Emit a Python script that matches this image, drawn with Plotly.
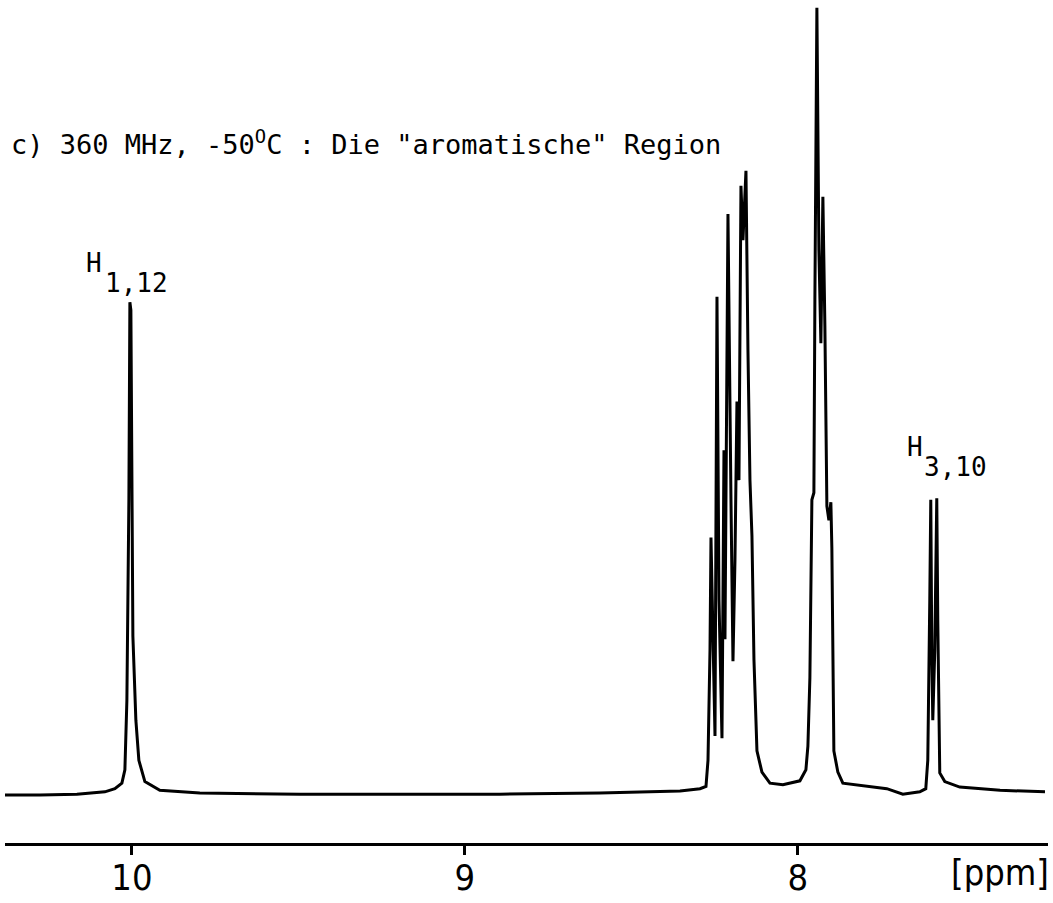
import plotly.graph_objects as go

# spectrum: chemical shift (ppm) and relative intensity (%)
ppm = [10.381, 10.276, 10.165, 10.081, 10.051, 10.030, 10.021, 10.015, 10.009, 10.006,
       10.003, 10.000, 9.997, 9.988, 9.979, 9.961, 9.916, 9.796, 9.495, 9.195,
       8.895, 8.595, 8.444, 8.354, 8.294, 8.276, 8.270, 8.264, 8.261, 8.249,
       8.243, 8.237, 8.228, 8.222, 8.219, 8.210, 8.201, 8.195, 8.189, 8.183,
       8.177, 8.171, 8.165, 8.156, 8.150, 8.144, 8.138, 8.132, 8.123, 8.108,
       8.084, 8.045, 7.994, 7.976, 7.970, 7.964, 7.958, 7.952, 7.949, 7.943,
       7.937, 7.931, 7.925, 7.919, 7.913, 7.907, 7.901, 7.898, 7.892, 7.880,
       7.865, 7.784, 7.733, 7.685, 7.634, 7.616, 7.610, 7.604, 7.601, 7.598,
       7.595, 7.589, 7.583, 7.580, 7.574, 7.559, 7.514, 7.393, 7.258]
intensity = [0.0, 0.0, 0.1, 0.4, 0.8, 1.5, 3.2, 12.0, 37.5, 62.6,
             61.6, 37.5, 20.2, 9.5, 4.4, 1.7, 0.6, 0.25, 0.1, 0.1,
             0.1, 0.25, 0.4, 0.5, 0.8, 1.1, 4.4, 18.4, 32.7, 7.5,
             63.3, 24.8, 7.2, 43.8, 19.8, 73.8, 37.5, 17.0, 29.9, 50.0,
             40.0, 77.4, 70.5, 79.3, 56.5, 40.0, 32.9, 17.2, 5.6, 2.9,
             1.5, 1.3, 1.8, 3.2, 6.2, 14.9, 37.5, 38.4, 62.9, 100.0,
             69.3, 57.4, 76.0, 59.6, 36.7, 34.9, 37.2, 31.3, 5.6, 2.9,
             1.5, 1.1, 0.8, 0.1, 0.4, 0.8, 4.4, 24.8, 37.5, 18.4,
             9.5, 18.4, 37.7, 22.2, 2.8, 1.7, 1.0, 0.6, 0.4]

tick_vals = [10, 9, 8]
tick_text = ['10', '9', '8']

title_text = 'c) 360 MHz, -50<sup>O</sup>C : Die "aromatische" Region'
# peak labels: (main letter, subscript, ppm of peak)
peak_labels = [('H', '1,12', 10.006), ('H', '3,10', 7.592)]

W, H = 1053, 903
MONO = 'DejaVu Sans Mono'
NARROW = 'Liberation Sans Narrow, DejaVu Sans Condensed, Liberation Sans'

fig = go.Figure()
fig.add_trace(go.Scatter(
    x=ppm, y=intensity, mode='lines',
    line=dict(color='black', width=3),
    hoverinfo='skip', showlegend=False,
))

fig.update_layout(
    width=W, height=H,
    margin=dict(l=0, r=0, t=0, b=60),
    paper_bgcolor='white', plot_bgcolor='white',
    xaxis=dict(
        range=[10.381, 7.249], domain=[5 / W, 1048 / W],
        showgrid=False, zeroline=False,
        showline=True, linecolor='black', linewidth=3,
        ticks='outside', ticklen=9, tickwidth=3, tickcolor='black',
        tickvals=tick_vals, ticktext=tick_text,
        tickfont=dict(family=NARROW, size=36, color='black'),
        ticklabelstandoff=-8,
    ),
    yaxis=dict(range=[-6.1, 101.0], visible=False),
)

# title line, top left
fig.add_annotation(
    text=title_text, xref='paper', yref='paper', x=9 / W, y=1 - 142 / 843,
    xanchor='left', yanchor='middle', showarrow=False,
    font=dict(family=MONO, size=27, color='black'),
)

# peak labels drawn as letter + lowered index
for (main, sub, pos), (hy, sy) in zip(peak_labels, [(263, 283), (447, 467)]):
    fig.add_annotation(
        text=main, x=pos, xref='x', yref='paper', y=1 - hy / 843,
        xshift=-36 if sub == '1,12' else -19,
        xanchor='center', yanchor='middle', showarrow=False,
        font=dict(family=MONO, size=26, color='black'),
    )
    fig.add_annotation(
        text=sub, x=pos, xref='x', yref='paper', y=1 - sy / 843,
        xshift=7 if sub == '1,12' else 22,
        xanchor='center', yanchor='middle', showarrow=False,
        font=dict(family=MONO, size=26, color='black'),
    )

# unit label at the right end of the axis
fig.add_annotation(
    text='[ppm]', xref='paper', yref='paper', x=1000 / W, y=1 - 872 / 843,
    xanchor='center', yanchor='middle', showarrow=False,
    font=dict(family=NARROW, size=36, color='black'),
)

fig.write_html('out.html', config={'displayModeBar': False},
               post_script="document.body.style.margin='0';")
